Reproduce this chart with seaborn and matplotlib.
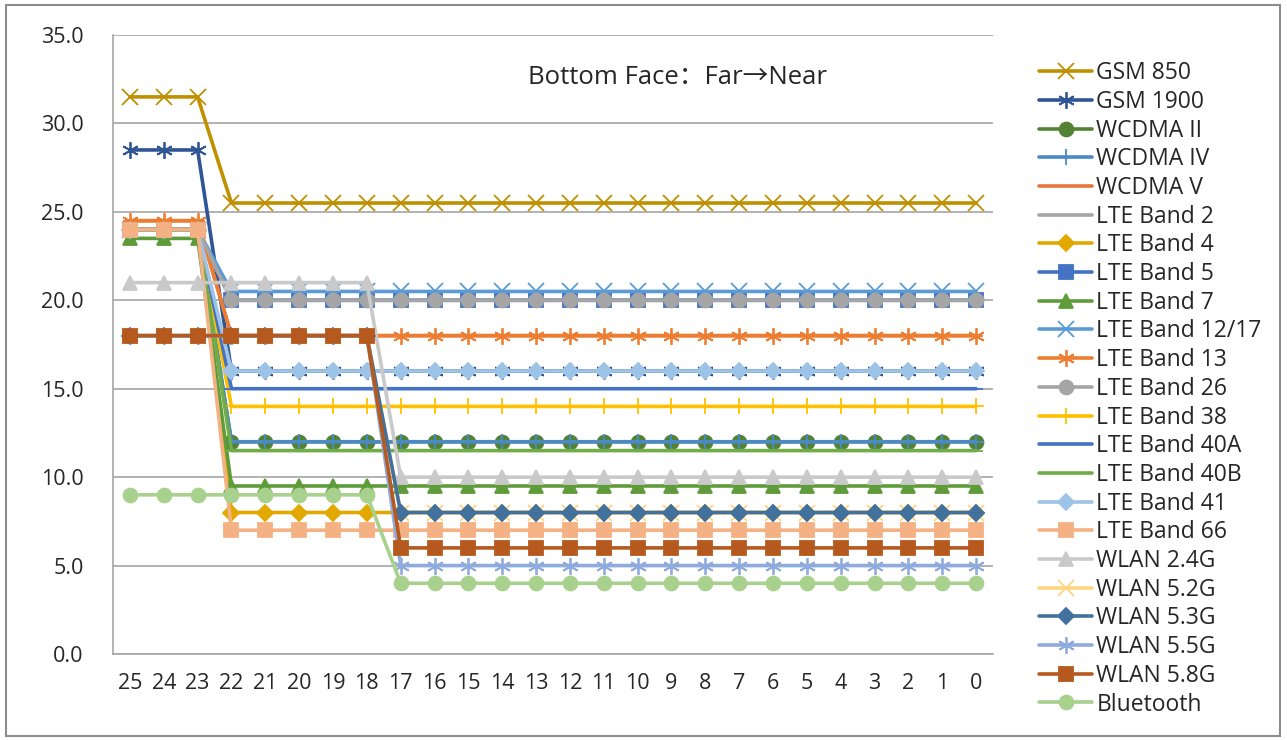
import seaborn as sns
import matplotlib.pyplot as plt
import pandas as pd
import numpy as np
from matplotlib.patches import Rectangle
from matplotlib.lines import Line2D

# distance categories, shown left to right
distances = ['25', '24', '23', '22', '21', '20', '19', '18', '17', '16', '15', '14',
             '13', '12', '11', '10', '9', '8', '7', '6', '5', '4', '3', '2', '1', '0']

# each band: value at 25-23, value at 22-18, value at 17-0
gsm_850 = [31.5] * 3 + [25.5] * 5 + [25.5] * 18
gsm_1900 = [28.5] * 3 + [16.0] * 5 + [16.0] * 18
wcdma_ii = [24.0] * 3 + [12.0] * 5 + [12.0] * 18
wcdma_iv = [24.0] * 3 + [12.0] * 5 + [12.0] * 18
wcdma_v = [24.5] * 3 + [18.0] * 5 + [18.0] * 18
lte_b2 = [24.0] * 3 + [20.0] * 5 + [20.0] * 18
lte_b4 = [24.0] * 3 + [8.0] * 5 + [8.0] * 18
lte_b5 = [24.0] * 3 + [20.0] * 5 + [20.0] * 18
lte_b7 = [23.5] * 3 + [9.5] * 5 + [9.5] * 18
lte_b12 = [24.0] * 3 + [20.5] * 5 + [20.5] * 18
lte_b13 = [24.5] * 3 + [18.0] * 5 + [18.0] * 18
lte_b26 = [24.0] * 3 + [20.0] * 5 + [20.0] * 18
lte_b38 = [24.0] * 3 + [14.0] * 5 + [14.0] * 18
lte_b40a = [24.0] * 3 + [15.0] * 5 + [15.0] * 18
lte_b40b = [24.0] * 3 + [11.5] * 5 + [11.5] * 18
lte_b41 = [24.0] * 3 + [16.0] * 5 + [16.0] * 18
lte_b66 = [24.0] * 3 + [7.0] * 5 + [7.0] * 18
wlan_24 = [21.0] * 3 + [21.0] * 5 + [10.0] * 18
wlan_52 = [18.0] * 3 + [18.0] * 5 + [8.0] * 18
wlan_53 = [18.0] * 3 + [18.0] * 5 + [8.0] * 18
wlan_55 = [18.0] * 3 + [18.0] * 5 + [5.0] * 18
wlan_58 = [18.0] * 3 + [18.0] * 5 + [6.0] * 18
bluetooth = [9.0] * 3 + [9.0] * 5 + [4.0] * 18

bands = ['GSM 850', 'GSM 1900', 'WCDMA II', 'WCDMA IV', 'WCDMA V', 'LTE Band 2',
         'LTE Band 4', 'LTE Band 5', 'LTE Band 7', 'LTE Band 12/17', 'LTE Band 13',
         'LTE Band 26', 'LTE Band 38', 'LTE Band 40A', 'LTE Band 40B', 'LTE Band 41',
         'LTE Band 66', 'WLAN 2.4G', 'WLAN 5.2G', 'WLAN 5.3G', 'WLAN 5.5G',
         'WLAN 5.8G', 'Bluetooth']
values = [gsm_850, gsm_1900, wcdma_ii, wcdma_iv, wcdma_v, lte_b2, lte_b4, lte_b5,
          lte_b7, lte_b12, lte_b13, lte_b26, lte_b38, lte_b40a, lte_b40b, lte_b41,
          lte_b66, wlan_24, wlan_52, wlan_53, wlan_55, wlan_58, bluetooth]

rows = []
for band, vals in zip(bands, values):
    for i, v in enumerate(vals):
        rows.append({'Band': band, 'pos': i, 'Distance': distances[i], 'Value': v})
df = pd.DataFrame(rows)

# Excel-like colours and markers
asterisk = (6, 2, 0)
styles = {
    'GSM 850': ('#BF9000', 'x', 11),
    'GSM 1900': ('#2F5597', asterisk, 12),
    'WCDMA II': ('#548235', 'o', 10),
    'WCDMA IV': ('#4A8AC9', '+', 12),
    'WCDMA V': ('#E5753A', '_', 10),
    'LTE Band 2': ('#A5A5A5', '_', 10),
    'LTE Band 4': ('#E3A800', 'D', 8),
    'LTE Band 5': ('#4472C4', 's', 10),
    'LTE Band 7': ('#5E9C3A', '^', 10),
    'LTE Band 12/17': ('#5B9BD5', 'x', 11),
    'LTE Band 13': ('#ED7D31', asterisk, 12),
    'LTE Band 26': ('#A5A5A5', 'o', 10),
    'LTE Band 38': ('#FFC000', '+', 12),
    'LTE Band 40A': ('#4472C4', '_', 10),
    'LTE Band 40B': ('#70AD47', '_', 10),
    'LTE Band 41': ('#9DC3E6', 'D', 8),
    'LTE Band 66': ('#F4B183', 's', 10),
    'WLAN 2.4G': ('#C9C9C9', '^', 10),
    'WLAN 5.2G': ('#FFD580', 'x', 11),
    'WLAN 5.3G': ('#41719C', 'D', 8),
    'WLAN 5.5G': ('#8FAADC', asterisk, 12),
    'WLAN 5.8G': ('#B5591F', 's', 10),
    'Bluetooth': ('#A9D18E', 'o', 10),
}

sns.set_style("white")
font_list = ['Open Sans', 'Noto Sans CJK SC', 'DejaVu Sans']
plt.rcParams['font.family'] = font_list

fig = plt.figure(figsize=(12.87, 7.40), dpi=100)
ax = fig.add_axes([113 / 1287, 1 - 654 / 740, 880 / 1287, 619 / 740])

handles = []
for band in bands:
    color, marker, ms = styles[band]
    sub = df[df['Band'] == band]
    sns.lineplot(data=sub, x='pos', y='Value', ax=ax, color=color, linewidth=2.6,
                 marker=marker, markersize=ms, markeredgecolor=color,
                 markeredgewidth=1.3, legend=False)
    handles.append(Line2D([0], [0], color=color, linewidth=2.6, marker=marker,
                          markersize=ms, markeredgecolor=color,
                          markeredgewidth=1.3, label=band))

ax.set_xlim(-0.5, 25.5)
ax.set_ylim(0, 35)
ax.set_yticks(np.arange(0, 35.1, 5))
ax.set_yticklabels([f"{t:.1f}" for t in np.arange(0, 35.1, 5)], fontsize=15.5)
ax.set_xticks(range(len(distances)))
ax.set_xticklabels(distances, fontsize=15.5)
ax.set_xticks(np.arange(-0.5, 25.6, 1), minor=True)
ax.tick_params(axis='x', which='major', length=0, pad=14)
ax.tick_params(axis='x', which='minor', length=7, color='#A6A6A6', width=1.2)
ax.tick_params(axis='y', which='major', length=9, color='#A6A6A6', width=1.2, pad=12)
ax.set_xlabel('')
ax.set_ylabel('')
ax.grid(axis='y', color='#A6A6A6', linewidth=1.2)
ax.set_axisbelow(True)
for side in ['top', 'right']:
    ax.spines[side].set_visible(False)
for side in ['left', 'bottom']:
    ax.spines[side].set_color('#A6A6A6')
    ax.spines[side].set_linewidth(1.2)

ax.text((528 - 113) / 880, (654 - 78) / 619, 'Bottom Face：Far→Near',
        transform=ax.transAxes, fontsize=18.5, va='center', ha='left',
        family=font_list)

fig.legend(handles=handles, loc='upper left', bbox_to_anchor=(1030 / 1287, 1 - 52 / 740),
           frameon=False, fontsize=16.5, handlelength=2.3, handletextpad=0.2,
           labelspacing=0.205, borderaxespad=0)

# outer chart border
fig.patches.append(Rectangle((6 / 1287, 4 / 740), 1274 / 1287, 731 / 740,
                             transform=fig.transFigure, fill=False,
                             edgecolor='#8C8C8C', linewidth=1.5))

fig.savefig('out.png', dpi=100)
plt.close(fig)
